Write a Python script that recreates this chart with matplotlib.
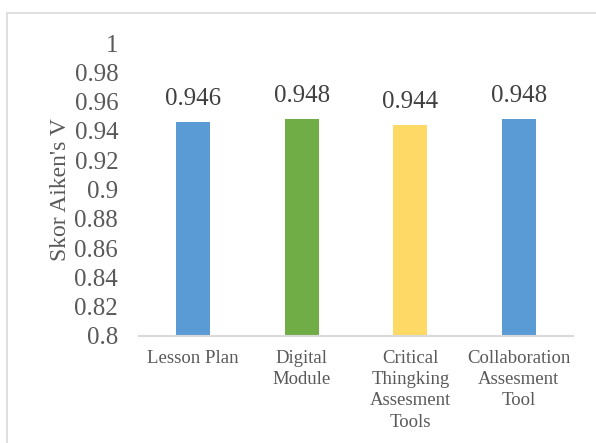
import matplotlib.pyplot as plt
from matplotlib.patches import Rectangle

categories = ["Lesson Plan", "Digital\nModule", "Critical\nThingking\nAssesment\nTools",
              "Collaboration\nAssesment\nTool"]
scores = [0.946, 0.948, 0.944, 0.948]
colors = ["#5B9BD5", "#70AD47", "#FFD966", "#5B9BD5"]
yticks = [0.8, 0.82, 0.84, 0.86, 0.88, 0.9, 0.92, 0.94, 0.96, 0.98, 1]

plt.rcParams['font.family'] = ['Liberation Serif', 'DejaVu Serif']
txt = "#595959"

fig = plt.figure(figsize=(5.96, 4.43), dpi=100)
# outer chart border (cut off at right and bottom like the reference)
fig.patches.append(Rectangle((7 / 596, -0.1), 1.2, 1 - 13 / 443 + 0.1, transform=fig.transFigure,
                             fill=False, edgecolor="#D9D9D9", linewidth=1.2))

ax = fig.add_axes([139 / 596, 1 - 336 / 443, (573 - 139) / 596, (336 - 43) / 443])
x = range(len(categories))
ax.bar(x, scores, width=0.31, color=colors)
ax.set_xlim(-0.5, len(categories) - 0.5)
ax.set_ylim(0.8, 1.0)
ax.set_yticks(yticks)
ax.set_yticklabels([("%g" % t) for t in yticks], fontsize=18, color=txt)
ax.set_xticks(list(x))
ax.set_xticklabels(categories, fontsize=13.5, color=txt, linespacing=1.33, va="top")
ax.tick_params(axis="both", length=0)
ax.tick_params(axis="y", pad=15)
ax.tick_params(axis="x", pad=10)
for s in ["top", "right", "left"]:
    ax.spines[s].set_visible(False)
ax.spines["bottom"].set_color("#D9D9D9")
ax.spines["bottom"].set_linewidth(1.5)

for i, v in enumerate(scores):
    ax.text(i, v + 0.008, "%.3f" % v, ha="center", va="bottom", fontsize=18, color="#404040")

ax.set_ylabel("Skor Aiken's V", fontsize=17, color=txt)
ax.yaxis.set_label_coords(-0.156, 0.50)

fig.savefig("out.png", dpi=100)
